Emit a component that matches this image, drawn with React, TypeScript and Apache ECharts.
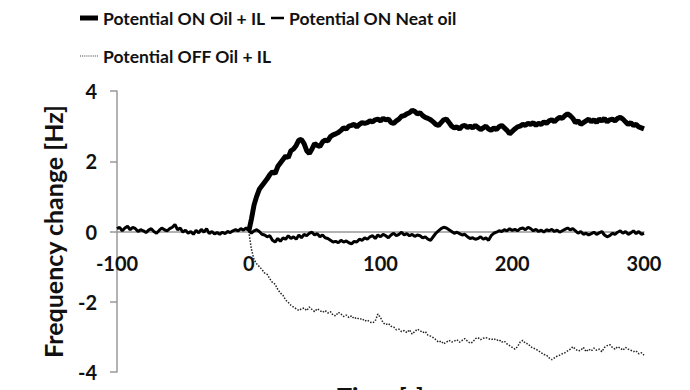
import React, { useEffect, useRef } from "react";
import * as echarts from "echarts";

// Sampling grid (seconds)
const T_STEP = 2;
const T_START_ON = 0;
const T_START_NEAT = -100;
const T_START_OFF = 0;

const SERIES_NAMES = ["Potential ON Oil + IL", "Potential ON Neat oil", "Potential OFF Oil + IL"];
const X_TICKS = [-100, 0, 100, 200, 300];
const Y_TICKS = [-4, -2, 0, 2, 4];

// Potential ON Oil + IL, t = 0..300 s every 2 s
const onOilIL = [
  0.0, 0.35, 0.75, 1.0, 1.2, 1.3, 1.4, 1.5, 1.62, 1.7,
  1.65, 1.85, 1.95, 2.05, 2.15, 2.1, 2.3, 2.35, 2.45, 2.6,
  2.62, 2.5, 2.3, 2.22, 2.35, 2.5, 2.45, 2.42, 2.55, 2.6,
  2.58, 2.7, 2.75, 2.78, 2.82, 2.88, 2.95, 2.92, 3.0, 3.02,
  3.05, 2.98, 3.05, 3.1, 3.08, 3.1, 3.15, 3.12, 3.18, 3.2,
  3.15, 3.22, 3.18, 3.2, 3.1, 3.08, 3.15, 3.2, 3.28, 3.3,
  3.35, 3.38, 3.45, 3.42, 3.35, 3.38, 3.3, 3.25, 3.22, 3.18,
  3.12, 3.05, 3.02, 3.1, 3.18, 3.2, 3.1, 3.0, 2.95, 2.98,
  2.92, 3.0, 3.02, 2.96, 3.0, 2.95, 3.02, 2.96, 2.9, 2.95,
  3.0, 2.92, 2.88, 2.95, 2.9, 2.98, 3.02, 2.95, 2.88, 2.78,
  2.85, 2.92, 2.98, 3.0, 3.05, 3.02, 3.08, 3.05, 3.1, 3.02,
  3.08, 3.05, 3.12, 3.08, 3.15, 3.18, 3.12, 3.2, 3.25, 3.22,
  3.3, 3.35, 3.3, 3.22, 3.1, 3.15, 3.05, 3.1, 3.15, 3.2,
  3.12, 3.18, 3.1, 3.2, 3.15, 3.22, 3.12, 3.18, 3.2, 3.15,
  3.22, 3.25, 3.2, 3.12, 3.05, 3.1, 3.02, 3.05, 2.98, 2.95,
  2.92,
];

// Potential ON Neat oil, t = -100..300 s every 2 s
const onNeatOil = [
  0.08, 0.12, 0.02, 0.1, 0.15, 0.05, 0.12, 0.08, 0.0, 0.05,
  0.02, -0.03, 0.04, 0.08, 0.0, -0.05, 0.03, 0.1, 0.05, 0.02,
  0.08, 0.12, 0.2, 0.05, 0.1, -0.02, 0.04, -0.05, 0.0, -0.08,
  0.03, -0.04, 0.06, -0.02, 0.08, -0.06, 0.0, -0.07, -0.03, -0.08,
  -0.02, -0.06, 0.0, -0.03, 0.02, 0.05, 0.02, 0.08, 0.04, 0.1,
  0.05, -0.05, 0.02, 0.05, 0.0, -0.08, -0.1, -0.15, -0.12, -0.25,
  -0.3, -0.2, -0.28, -0.18, -0.22, -0.12, -0.2, -0.15, -0.22, -0.1,
  -0.18, -0.08, -0.12, -0.05, -0.02, -0.1, -0.06, -0.15, -0.1, -0.18,
  -0.2, -0.25, -0.3, -0.28, -0.32, -0.25, -0.3, -0.27, -0.32, -0.35,
  -0.28, -0.3, -0.22, -0.25, -0.18, -0.22, -0.15, -0.12, -0.2, -0.1,
  -0.15, -0.08, -0.12, -0.18, -0.1, -0.05, -0.12, -0.08, -0.02, -0.1,
  -0.06, -0.12, -0.08, -0.14, -0.1, -0.12, -0.18, -0.15, -0.22, -0.25,
  -0.15, -0.05, 0.02, 0.08, 0.12, 0.1, 0.05, 0.0, -0.05, -0.02,
  -0.06, -0.1, -0.08, -0.15, -0.2, -0.18, -0.22, -0.2, -0.15, -0.22,
  -0.18, -0.25, -0.12, -0.05, -0.02, 0.02, 0.0, 0.05, 0.02, 0.08,
  0.03, 0.06, 0.02, 0.08, 0.1, 0.05, 0.12, 0.08, 0.02, 0.06,
  0.0, 0.04, -0.02, 0.05, 0.02, 0.06, 0.0, 0.04, -0.02, 0.02,
  0.06, 0.1, 0.05, 0.08, 0.02, -0.05, 0.0, -0.08, -0.05, -0.1,
  -0.06, -0.02, -0.08, -0.04, 0.0, -0.1, -0.15, -0.12, -0.05, -0.08,
  -0.02, 0.02, -0.05, 0.0, -0.08, -0.04, 0.02, -0.06, 0.0, -0.08,
  -0.05,
];

// Potential OFF Oil + IL, t = 0..300 s every 2 s
const offOilIL = [
  0.0, -0.5, -0.8, -0.92, -1.0, -1.08, -1.18, -1.22, -1.35, -1.45,
  -1.5, -1.65, -1.75, -1.82, -1.95, -2.02, -2.1, -2.15, -2.2, -2.25,
  -2.2, -2.18, -2.25, -2.15, -2.22, -2.28, -2.2, -2.25, -2.3, -2.25,
  -2.32, -2.28, -2.38, -2.4, -2.3, -2.35, -2.42, -2.38, -2.45, -2.4,
  -2.48, -2.45, -2.5, -2.48, -2.55, -2.52, -2.58, -2.6, -2.55, -2.35,
  -2.45, -2.6, -2.65, -2.62, -2.7, -2.72, -2.8, -2.78, -2.85, -2.82,
  -2.88, -2.8, -2.92, -2.85, -2.78, -2.82, -2.88, -2.85, -2.95, -2.98,
  -3.02, -3.08, -3.15, -3.12, -3.2, -3.15, -3.1, -3.15, -3.12, -3.08,
  -3.15, -3.1, -3.05, -3.12, -3.18, -3.15, -3.05, -3.02, -3.08, -3.04,
  -3.02, -3.05, -3.08, -3.05, -3.1, -3.08, -3.15, -3.12, -3.2, -3.25,
  -3.3, -3.35, -3.28, -3.15, -3.1, -3.18, -3.2, -3.28, -3.32, -3.35,
  -3.4, -3.45, -3.5, -3.52, -3.6, -3.65, -3.6, -3.55, -3.52, -3.48,
  -3.45, -3.4, -3.35, -3.28, -3.35, -3.4, -3.38, -3.3, -3.42, -3.35,
  -3.4, -3.32, -3.38, -3.35, -3.42, -3.3, -3.25, -3.22, -3.3, -3.35,
  -3.28, -3.32, -3.38, -3.3, -3.35, -3.38, -3.42, -3.4, -3.48, -3.45,
  -3.52,
];

const toPairs = (vals: number[], start: number) => vals.map((v, i) => [start + i * T_STEP, v]);

const FONT = "Lato, 'Open Sans', sans-serif";
const DOTS_ICON =
  "path://M0,0h1v1h-1z M2,0h1v1h-1z M4,0h1v1h-1z M6,0h1v1h-1z M8,0h1v1h-1z M10,0h1v1h-1z M12,0h1v1h-1z M14,0h1v1h-1z M16,0h1v1h-1z";

const GRID_TOP = 91;
const GRID_BOTTOM = 18;
const CHART_H = 390;

export default function App() {
  const ref = useRef<HTMLDivElement>(null);
  useEffect(() => {
    if (!ref.current) return;
    const chart = echarts.init(ref.current, null, { renderer: "svg" });
    const legendText = { fontFamily: FONT, fontWeight: "bold" as const, fontSize: 17.5, color: "#111" };
    const legendBase = { itemGap: 12, textStyle: legendText, padding: 0 };
    // x-axis drawn along y = 0 (middle of the symmetric -4..4 range)
    const zeroOffset = (CHART_H - GRID_TOP - GRID_BOTTOM) / 2;
    chart.setOption({
      animation: false,
      backgroundColor: "#fff",
      legend: [
        {
          ...legendBase,
          data: [{ name: SERIES_NAMES[0], icon: "rect" }],
          left: 80,
          top: 9,
          itemWidth: 18,
          itemHeight: 5,
        },
        {
          ...legendBase,
          data: [{ name: SERIES_NAMES[1], icon: "rect" }],
          left: 271,
          top: 9,
          itemWidth: 13,
          itemHeight: 2.5,
        },
        {
          ...legendBase,
          data: [{ name: SERIES_NAMES[2], icon: DOTS_ICON }],
          left: 80,
          top: 47,
          itemWidth: 18,
          itemHeight: 1.4,
          itemStyle: { color: "#444" },
        },
      ],
      grid: { left: 117, right: 46, top: GRID_TOP, bottom: GRID_BOTTOM, containLabel: false, outerBoundsMode: "none" },
      xAxis: {
        type: "value",
        min: X_TICKS[0],
        max: X_TICKS[X_TICKS.length - 1],
        interval: 100,
        offset: -zeroOffset,
        name: "Time [s]",
        nameLocation: "middle",
        nameGap: 152,
        nameTextStyle: { fontFamily: FONT, fontWeight: "bold", fontSize: 25, color: "#111" },
        axisLine: { onZero: false, lineStyle: { color: "#999", width: 1.5 } },
        axisTick: { show: false },
        splitLine: { show: false },
        axisLabel: { margin: 21, fontFamily: FONT, fontWeight: "bold", fontSize: 20, color: "#111" },
      },
      yAxis: {
        type: "value",
        min: Y_TICKS[0],
        max: Y_TICKS[Y_TICKS.length - 1],
        interval: 2,
        name: "Frequency change [Hz]",
        nameLocation: "middle",
        nameGap: 52,
        nameTextStyle: { fontFamily: FONT, fontWeight: "bold", fontSize: 25, color: "#111" },
        axisLine: { show: true, onZero: false, lineStyle: { color: "#999", width: 1.5 } },
        axisTick: { show: true, inside: false, length: 7, lineStyle: { color: "#999", width: 1.5 } },
        splitLine: { show: false },
        axisLabel: { margin: 20, fontFamily: FONT, fontWeight: "bold", fontSize: 20, color: "#111" },
      },
      series: [
        {
          name: SERIES_NAMES[0],
          type: "line",
          data: toPairs(onOilIL, T_START_ON),
          showSymbol: false,
          symbol: "none",
          z: 3,
          lineStyle: { color: "#000", width: 5 },
          itemStyle: { color: "#000" },
        },
        {
          name: SERIES_NAMES[1],
          type: "line",
          data: toPairs(onNeatOil, T_START_NEAT),
          showSymbol: false,
          symbol: "none",
          z: 2,
          lineStyle: { color: "#000", width: 3 },
          itemStyle: { color: "#000" },
        },
        {
          name: SERIES_NAMES[2],
          type: "line",
          data: toPairs(offOilIL, T_START_OFF),
          showSymbol: false,
          symbol: "none",
          z: 1,
          lineStyle: { color: "#222", width: 1.5, type: "dotted" },
          itemStyle: { color: "#222" },
        },
      ],
    });
    return () => chart.dispose();
  }, []);
  return (
    <div
      ref={ref}
      style={{ position: "fixed", left: 0, top: 0, width: 690, height: 390, background: "#fff" }}
    />
  );
}
